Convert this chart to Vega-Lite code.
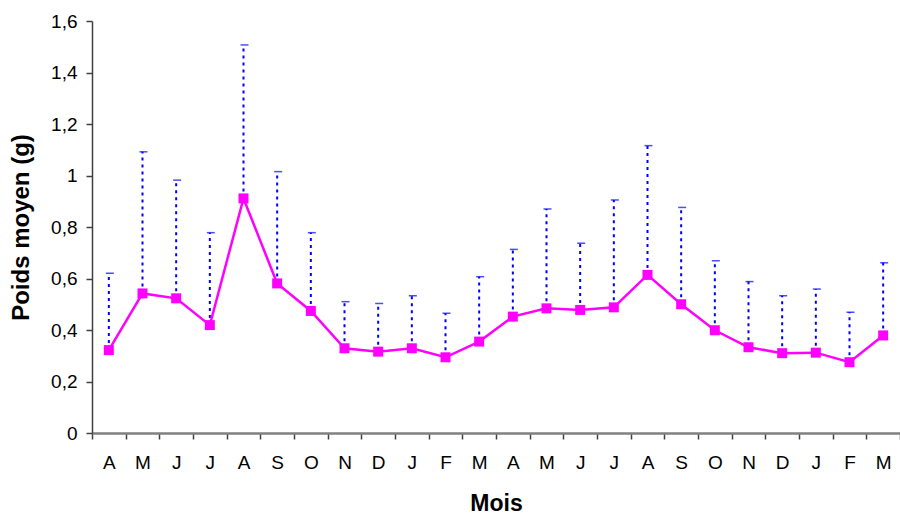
{
  "$schema": "https://vega.github.io/schema/vega-lite/v6.json",
  "width": 808,
  "height": 412,
  "autosize": {"type": "none"},
  "padding": {"left": 92, "top": 21, "right": 0, "bottom": 83},
  "background": "white",
  "config": {
    "view": {"stroke": null},
    "font": "Liberation Sans"
  },
  "data": {
    "values": [
      {"periode": "A 1", "moyenne": 0.322, "haut": 0.620},
      {"periode": "M 1", "moyenne": 0.542, "haut": 1.092},
      {"periode": "J 1", "moyenne": 0.523, "haut": 0.982},
      {"periode": "J 2", "moyenne": 0.419, "haut": 0.778},
      {"periode": "A 2", "moyenne": 0.911, "haut": 1.507},
      {"periode": "S 1", "moyenne": 0.581, "haut": 1.015},
      {"periode": "O 1", "moyenne": 0.474, "haut": 0.778},
      {"periode": "N 1", "moyenne": 0.329, "haut": 0.510},
      {"periode": "D 1", "moyenne": 0.316, "haut": 0.503},
      {"periode": "J 3", "moyenne": 0.329, "haut": 0.533},
      {"periode": "F 1", "moyenne": 0.294, "haut": 0.465},
      {"periode": "M 2", "moyenne": 0.355, "haut": 0.607},
      {"periode": "A 3", "moyenne": 0.452, "haut": 0.713},
      {"periode": "M 3", "moyenne": 0.484, "haut": 0.870},
      {"periode": "J 4", "moyenne": 0.478, "haut": 0.737},
      {"periode": "J 5", "moyenne": 0.488, "haut": 0.905},
      {"periode": "A 4", "moyenne": 0.614, "haut": 1.116},
      {"periode": "S 2", "moyenne": 0.500, "haut": 0.876},
      {"periode": "O 2", "moyenne": 0.399, "haut": 0.669},
      {"periode": "N 2", "moyenne": 0.333, "haut": 0.588},
      {"periode": "D 2", "moyenne": 0.310, "haut": 0.533},
      {"periode": "J 6", "moyenne": 0.312, "haut": 0.559},
      {"periode": "F 2", "moyenne": 0.275, "haut": 0.469},
      {"periode": "M 4", "moyenne": 0.379, "haut": 0.661}
    ]
  },
  "encoding": {
    "x": {
      "field": "periode",
      "type": "ordinal",
      "sort": null,
      "scale": {"paddingInner": 0, "paddingOuter": 0},
      "axis": {
        "title": "Mois",
        "labelExpr": "isValid(datum.value) ? split(datum.value, ' ')[0] : ''",
        "labelAngle": 0,
        "labelFontSize": 19,
        "labelColor": "#000000",
        "labelPadding": 14,
        "tickBand": "extent",
        "tickSize": 6,
        "tickColor": "#404040",
        "tickWidth": 1.5,
        "domainColor": "#808080",
        "domainWidth": 2.5,
        "titleFontSize": 23,
        "titleFontWeight": "bold",
        "titleColor": "#000000",
        "titlePadding": 20,
        "grid": false
      }
    },
    "y": {
      "type": "quantitative",
      "scale": {"domain": [0, 1.6], "nice": false, "zero": true},
      "axis": {
        "title": "Poids moyen (g)",
        "values": [0, 0.2, 0.4, 0.6, 0.8, 1, 1.2, 1.4, 1.6],
        "labelExpr": "replace(format(datum.value, '.1~f'), '.', ',')",
        "labelFontSize": 19,
        "labelColor": "#000000",
        "labelPadding": 9,
        "tickSize": 6,
        "tickColor": "#404040",
        "tickWidth": 1.5,
        "domainColor": "#404040",
        "domainWidth": 1.5,
        "titleFontSize": 24,
        "titleFontWeight": "bold",
        "titleColor": "#000000",
        "titlePadding": 17,
        "grid": false
      }
    }
  },
  "layer": [
    {
      "mark": {"type": "rule", "color": "#0000FF", "strokeWidth": 2, "strokeDash": [3, 4]},
      "encoding": {
        "y": {"field": "moyenne", "type": "quantitative"},
        "y2": {"field": "haut"}
      }
    },
    {
      "mark": {"type": "tick", "color": "#0000FF", "thickness": 1.5, "size": 8, "orient": "horizontal", "xOffset": 1},
      "encoding": {
        "y": {"field": "haut", "type": "quantitative"}
      }
    },
    {
      "mark": {"type": "line", "color": "#FF00FF", "strokeWidth": 2.5},
      "encoding": {
        "y": {"field": "moyenne", "type": "quantitative"}
      }
    },
    {
      "mark": {"type": "point", "shape": "square", "filled": true, "opacity": 1, "color": "#FF00FF", "size": 100},
      "encoding": {
        "y": {"field": "moyenne", "type": "quantitative"}
      }
    }
  ]
}
